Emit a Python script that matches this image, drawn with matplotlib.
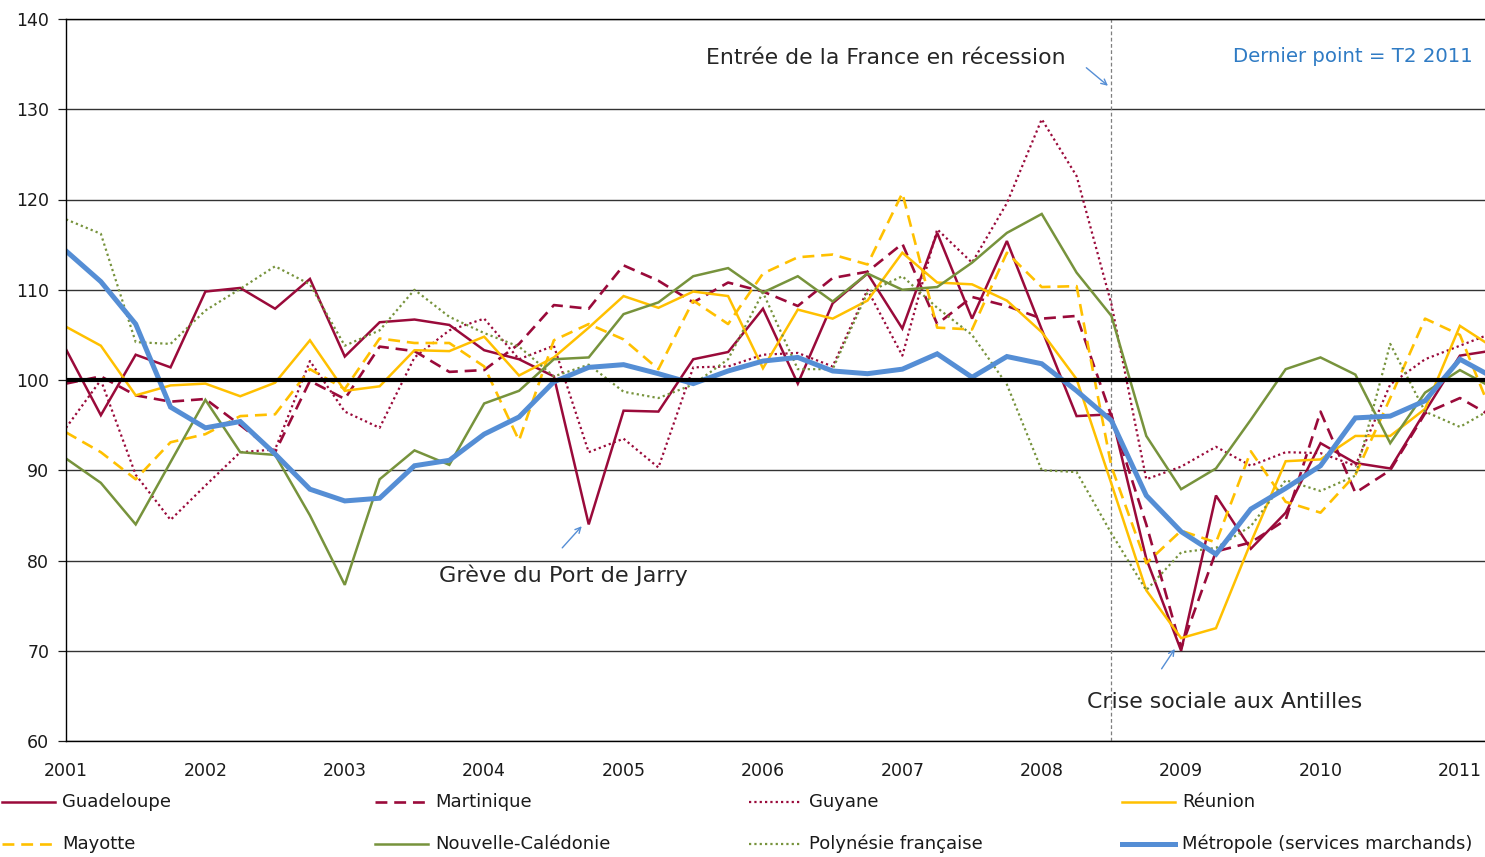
import numpy as np
import matplotlib
matplotlib.use('Agg')
import matplotlib.pyplot as plt
from matplotlib.lines import Line2D

plt.rcParams['font.family'] = ['DejaVu Sans']

# quarterly index, 2001 T1 .. 2011 T2
quarters = 2001 + np.arange(42) / 4.0
years = list(range(2001, 2012))

guadeloupe = [103.4, 96.1, 102.8, 101.4, 109.8, 110.2, 107.9, 111.2,
              102.6, 106.4, 106.7, 106.1, 103.3, 102.3, 100.4, 84.0,
              96.6, 96.5, 102.3, 103.1, 107.9, 99.6, 108.5, 111.8,
              105.7, 116.3, 106.8, 115.4, 105.6, 96.0, 96.2, 80.2,
              70.0, 87.2, 81.3, 85.3, 93.0, 90.8, 90.2, 96.5,
              102.7, 103.3]
martinique = [99.6, 100.4, 98.3, 97.6, 97.9, 95.0, 92.0, 99.9,
              97.9, 103.7, 103.2, 100.9, 101.1, 104.0, 108.3, 107.9,
              112.7, 111.0, 108.6, 110.8, 109.8, 108.2, 111.3, 112.0,
              115.1, 106.2, 109.2, 108.2, 106.8, 107.1, 96.0, 84.0,
              70.3, 81.0, 82.0, 84.5, 96.5, 87.5, 90.0, 96.3,
              98.0, 95.8]
guyane = [94.7, 100.0, 89.5, 84.5, 88.3, 92.0, 92.3, 102.1,
          96.5, 94.7, 102.5, 105.5, 106.8, 102.3, 103.8, 92.0,
          93.5, 90.3, 101.4, 101.5, 102.8, 103.0, 101.5, 110.0,
          102.7, 116.7, 113.0, 119.6, 128.9, 122.6, 108.4, 89.0,
          90.4, 92.6, 90.5, 92.0, 91.9, 90.5, 99.5, 102.3,
          103.8, 105.3]
reunion = [105.9, 103.8, 98.3, 99.4, 99.6, 98.2, 99.7, 104.4,
           98.8, 99.3, 103.3, 103.2, 104.8, 100.5, 102.5, 105.8,
           109.3, 108.0, 109.8, 109.3, 101.3, 107.8, 106.8, 108.8,
           114.1, 110.8, 110.6, 108.8, 105.3, 100.1, 88.5, 76.7,
           71.4, 72.5, 82.0, 91.0, 91.2, 93.8, 93.8, 96.8,
           106.0, 103.5]
mayotte = [94.2, 92.0, 89.0, 93.1, 94.0, 96.0, 96.2, 101.2,
           99.0, 104.6, 104.1, 104.1, 101.5, 93.3, 104.4, 106.2,
           104.5, 101.2, 108.8, 106.2, 111.8, 113.6, 113.9, 112.8,
           120.7, 105.8, 105.6, 114.1, 110.3, 110.4, 90.4, 79.7,
           83.3, 82.0, 92.1, 86.5, 85.3, 89.5, 98.0, 106.8,
           105.0, 95.5]
nouvelle_caledonie = [91.3, 88.6, 84.0, 90.9, 97.8, 92.0, 91.7, 85.0,
                      77.3, 89.0, 92.2, 90.6, 97.4, 98.8, 102.3, 102.5,
                      107.3, 108.6, 111.5, 112.4, 109.7, 111.5, 108.7, 111.8,
                      110.0, 110.3, 113.0, 116.3, 118.4, 111.9, 107.1, 93.8,
                      87.9, 90.2, 95.6, 101.2, 102.5, 100.6, 93.0, 98.6,
                      101.1, 99.0]
polynesie = [117.8, 116.2, 104.2, 104.0, 107.7, 110.1, 112.6, 110.6,
             103.8, 105.5, 110.0, 107.0, 105.2, 103.7, 100.4, 101.7,
             98.7, 98.0, 99.5, 102.3, 109.7, 101.2, 101.2, 109.7,
             111.5, 108.0, 105.0, 99.5, 90.0, 89.8, 83.0, 76.7,
             80.9, 81.4, 83.8, 88.9, 87.7, 89.4, 104.0, 96.5,
             94.8, 97.0]
metropole = [114.3, 110.9, 106.2, 97.0, 94.7, 95.4, 91.8, 87.9,
             86.6, 86.9, 90.5, 91.1, 94.0, 95.9, 99.8, 101.4,
             101.7, 100.7, 99.6, 101.0, 102.1, 102.5, 101.0, 100.7,
             101.2, 102.9, 100.3, 102.6, 101.8, 98.8, 95.5, 87.2,
             83.2, 80.7, 85.7, 88.0, 90.5, 95.8, 96.0, 97.7,
             102.3, 100.2]

names = ['Guadeloupe', 'Martinique', 'Guyane', 'Réunion',
         'Mayotte', 'Nouvelle-Calédonie', 'Polynésie française',
         'Métropole (services marchands)']
series = [guadeloupe, martinique, guyane, reunion,
          mayotte, nouvelle_caledonie, polynesie, metropole]

red = '#9A0A3A'
yellow = '#FFC000'
green = '#77933C'
blue = '#558ED5'
styles = [
    dict(color=red, lw=1.8, ls='-'),
    dict(color=red, lw=1.9, ls=(0, (4.5, 2.6))),
    dict(color=red, lw=1.6, ls=(0, (1, 1.4))),
    dict(color=yellow, lw=1.8, ls='-'),
    dict(color=yellow, lw=1.9, ls=(0, (4.5, 2.6))),
    dict(color=green, lw=1.8, ls='-'),
    dict(color=green, lw=1.6, ls=(0, (1, 1.4))),
    dict(color=blue, lw=3.6, ls='-'),
]

fig = plt.figure(figsize=(14.85, 8.57), dpi=100)
W, H = 1485.0, 857.0
ax = fig.add_axes([66 / W, 1 - 741 / H, 1 - 66 / W, (741 - 19) / H])

for vals, st in zip(series, styles):
    ax.plot(quarters, vals, solid_joinstyle='miter', **st)

ax.axhline(100, color='black', lw=3.0, zorder=3)
ax.axvline(2008.5, color='#7f7f7f', lw=0.9, ls=(0, (3, 2)), zorder=1)

ax.set_xlim(2001, 2011.18)
ax.set_ylim(60, 140)
ax.set_yticks(range(60, 141, 10))
ax.set_xticks(years)
ax.set_xticklabels([str(y) for y in years])
ax.yaxis.grid(True, color='#333333', lw=1.0)
ax.set_axisbelow(True)
ax.tick_params(axis='y', length=6, width=0.9, pad=6, labelsize=12.5, colors='#1a1a1a')
ax.tick_params(axis='x', length=0, pad=15, labelsize=12.5, colors='#1a1a1a')
ax.spines['right'].set_visible(False)
for s in ['left', 'bottom', 'top']:
    ax.spines[s].set_color('black')
    ax.spines[s].set_linewidth(1.0)

txt = '#262626'
arrow = dict(arrowstyle='->', color=blue, lw=1.0, shrinkA=0, shrinkB=0)
ax.text(2011.09, 135.8, 'Dernier point = T2 2011', color='#2F7BC4',
        fontsize=14.2, ha='right', va='center')
ax.text(2006.88, 135.7, 'Entrée de la France en récession', color=txt,
        fontsize=15.8, ha='center', va='center')
ax.annotate('', xy=(2008.475, 132.6), xytext=(2008.32, 134.6), arrowprops=arrow)
ax.text(2004.57, 78.4, 'Grève du Port de Jarry', color=txt,
        fontsize=16.2, ha='center', va='center')
ax.annotate('', xy=(2004.70, 83.8), xytext=(2004.56, 81.4), arrowprops=arrow)
ax.text(2009.31, 64.3, 'Crise sociale aux Antilles', color=txt,
        fontsize=15.8, ha='center', va='center')
ax.annotate('', xy=(2008.955, 70.2), xytext=(2008.86, 68.0), arrowprops=arrow)

# legend, 4 columns x 2 rows under the plot
for i, (name, st) in enumerate(zip(names, styles)):
    col, row = i % 4, i // 4
    x0 = 2 + col * 373.3
    yy = 1 - (802 + row * 42) / H
    fig.add_artist(Line2D([x0 / W, (x0 + 53) / W], [yy, yy],
                          transform=fig.transFigure, **st))
    fig.text((x0 + 60) / W, yy, name, fontsize=13, color='#1a1a1a',
             ha='left', va='center')

fig.savefig('out.png', dpi=100)
